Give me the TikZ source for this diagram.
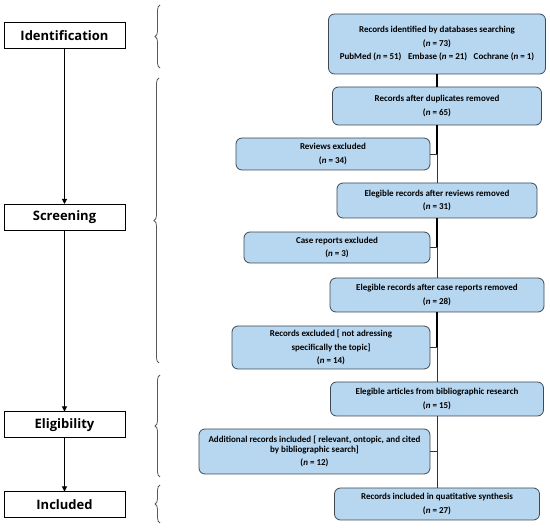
\documentclass[tikz,border=0pt]{standalone}
\usepackage{fontspec}
\setmainfont{Carlito}
\newfontfamily\stagefont{Open Sans}
\usetikzlibrary{arrows.meta,decorations.pathreplacing}
\definecolor{boxblue}{HTML}{B7D6EF}
\definecolor{boxline}{HTML}{3F4A55}
\tikzset{
    stage/.style={draw, line width=1pt, minimum width=121pt, minimum height=26pt,
        inner sep=0pt, font=\stagefont\bfseries\fontsize{13}{15}\selectfont},
    rec/.style={draw=boxline, fill=boxblue, rounded corners=6pt, line width=0.8pt,
        inner sep=0pt, align=center, font=\bfseries\fontsize{9}{13.5}\selectfont},
    spine/.style={line width=0.7pt, black!80},
    thickspine/.style={line width=2pt},
    phase/.style={decorate, decoration={brace, amplitude=5pt}, gray!70!black, line width=0.8pt}
}
\begin{document}
\begin{tikzpicture}[x=1pt,y=-1pt]
    \useasboundingbox (0,0) rectangle (550,529);

        % stages on the left
        \node[stage] (ident) at (64.5,36) {Identification};
        \node[stage] (screen) at (64.5,217.5) {Screening};
        \node[stage] (elig) at (64.5,425) {Eligibility};
        \node[stage] (incl) at (64.5,505) {Included};
        \draw[-{Triangle[length=5pt,width=5pt]},line width=1pt] (ident) -- (screen);
        \draw[-{Triangle[length=5pt,width=5pt]},line width=1pt] (screen) -- (elig);
        \draw[-{Triangle[length=5pt,width=5pt]},line width=1pt] (elig) -- (incl);

        % braces
        \draw[phase] (160,68) -- (160,5);
        \draw[phase] (159,363) -- (159,78);
        \draw[phase] (160,477) -- (160,375);
        \draw[phase] (160,523) -- (160,485);

        % main records
        \node[rec, minimum width=217pt, minimum height=60pt] (found) at (437,44)
            {Records identified by databases searching\\(\textit{n} = 73)\\PubMed (\textit{n} = 51)\enspace\ Embase (\textit{n} = 21)\enspace\ Cochrane (\textit{n} = 1)};
        \node[rec, minimum width=209pt, minimum height=38pt] (dup) at (437,106)
            {Records after duplicates removed\\(\textit{n} = 65)};
        \node[rec, minimum width=194pt, minimum height=32pt] (rev) at (333,154)
            {Reviews excluded\\(\textit{n} = 34)};
        \node[rec, minimum width=200pt, minimum height=35pt] (afterrev) at (437,200.5)
            {Elegible records after reviews removed\\(\textit{n} = 31)};
        \node[rec, minimum width=186pt, minimum height=31pt] (case) at (337,247.5)
            {Case reports excluded\\(\textit{n} = 3)};
        \node[rec, minimum width=214pt, minimum height=34pt] (aftercase) at (437,295)
            {Elegible records after case reports removed\\(\textit{n} = 28)};
        \node[rec, minimum width=198pt, minimum height=43pt] (offtopic) at (331,347.5)
            {Records excluded [ not adressing\\specifically the topic]\\(\textit{n} = 14)};
        \node[rec, minimum width=213pt, minimum height=34pt] (biblio) at (437,399)
            {Elegible articles from bibliographic research\\(\textit{n} = 15)};
        \node[rec, minimum width=231pt, minimum height=45pt] (extra) at (314.5,451.5)
            {Additional records included [ relevant, ontopic, and cited\\[-3.5pt]by bibliographic search]\\(\textit{n} = 12)};
        \node[rec, minimum width=205pt, minimum height=32pt] (final) at (437,504)
            {Records included in quatitative synthesis\\(\textit{n} = 27)};

        % spine
        \draw[thickspine] (found) -- (dup);
        \draw[thickspine] (dup.south) -- (dup.south |- rev.east);
        \draw[spine] (dup.south |- rev.east) -- (afterrev.north);
        \draw[thickspine] (afterrev.south) -- (afterrev.south |- case.east);
        \draw[spine] (afterrev.south |- case.east) -- (aftercase.north);
        \draw[thickspine] (aftercase.south) -- (aftercase.south |- offtopic.east);
        \draw[spine] (aftercase.south |- offtopic.east) -- (biblio.north);
        \draw[spine] (biblio.south) -- (final.north);
        \draw[spine] (rev.east) -- (rev.east -| dup.south);
        \draw[spine] (case.east) -- (case.east -| afterrev.south);
        \draw[spine] (offtopic.east) -- (offtopic.east -| aftercase.south);
        \draw[spine] (extra.east) -- (extra.east -| biblio.south);
    \end{tikzpicture}
\end{document}
